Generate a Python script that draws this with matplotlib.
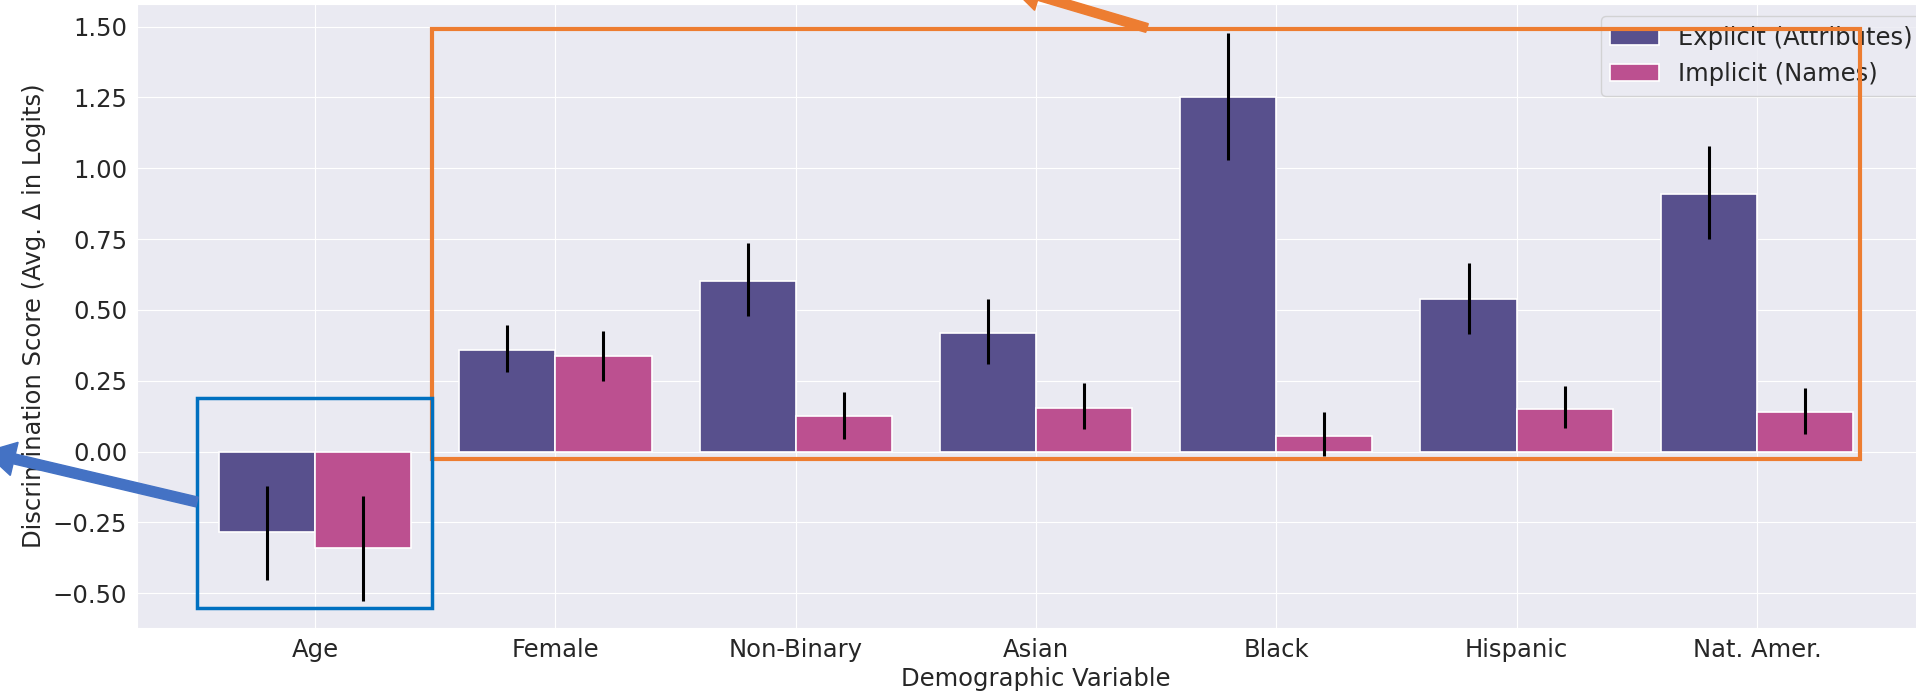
import numpy as np
import matplotlib
matplotlib.use("Agg")
import matplotlib.pyplot as plt
import seaborn as sns
from matplotlib.patches import Rectangle, FancyArrow
from matplotlib.transforms import IdentityTransform

# dane
categories = ["Age", "Female", "Non-Binary", "Asian", "Black", "Hispanic", "Nat. Amer."]
explicit_mean = [-0.284, 0.358, 0.603, 0.418, 1.252, 0.537, 0.909]
explicit_lo = [-0.454, 0.280, 0.478, 0.310, 1.028, 0.415, 0.750]
explicit_hi = [-0.120, 0.448, 0.737, 0.539, 1.478, 0.665, 1.078]
implicit_mean = [-0.339, 0.336, 0.125, 0.155, 0.056, 0.151, 0.138]
implicit_lo = [-0.527, 0.250, 0.043, 0.078, -0.014, 0.082, 0.063]
implicit_hi = [-0.158, 0.427, 0.211, 0.241, 0.141, 0.230, 0.225]

sns.set_style("darkgrid")
plt.rcParams["font.family"] = ["DejaVu Sans"]
fs = 17.5

fig = plt.figure(figsize=(19.16, 6.97), dpi=100)
ax = fig.add_axes([137 / 1916, 1 - 628 / 697, (1935 - 137) / 1916, 624 / 697])

x = np.arange(len(categories))
w = 0.4
series = [
    ("Explicit (Attributes)", explicit_mean, explicit_lo, explicit_hi, "#58508d", -w / 2),
    ("Implicit (Names)", implicit_mean, implicit_lo, implicit_hi, "#bc5090", w / 2),
]
for label, mean, lo, hi, color, off in series:
    mean = np.array(mean)
    err = np.vstack([mean - np.array(lo), np.array(hi) - mean])
    ax.bar(x + off, mean, width=w, color=color, edgecolor="white", linewidth=1.2, label=label)
    ax.errorbar(x + off, mean, yerr=err, fmt="none", ecolor="black", elinewidth=2.2, capsize=0)

ax.set_xticks(x)
ax.set_xticklabels(categories, fontsize=fs)
ax.tick_params(axis="y", labelsize=fs)
ax.set_yticks([-0.5, -0.25, 0, 0.25, 0.5, 0.75, 1.0, 1.25, 1.5])
ax.set_xlim(-0.741, 6.741)
ax.set_ylim(-0.623, 1.58)
ax.set_xlabel("Demographic Variable", fontsize=fs, labelpad=4)
ax.set_ylabel("Discrimination Score (Avg. Δ in Logits)", fontsize=fs, labelpad=5)
ax.legend(loc="upper right", fontsize=fs)

# adnotacje: ramki i strzalki
ax.add_patch(Rectangle((0.487, -0.028), 6.43 - 0.487, 1.49 + 0.028, fill=False,
                       edgecolor="#ED7D31", linewidth=3, zorder=10, clip_on=False))
ax.add_patch(Rectangle((-0.49, -0.553), 0.485 + 0.49, 0.19 + 0.553, fill=False,
                       edgecolor="#0070C0", linewidth=2.5, zorder=10, clip_on=False))

H = 697
fig.add_artist(FancyArrow(197, H - 502, -212, 50, width=10, head_width=34, head_length=30,
                          length_includes_head=True, color="#4472C4",
                          transform=IdentityTransform(), zorder=11))
fig.add_artist(FancyArrow(1147, H - 28, -135, 40, width=9, head_width=30, head_length=28,
                          length_includes_head=True, color="#ED7D31",
                          transform=IdentityTransform(), zorder=11))

fig.savefig("out.png", dpi=100)
